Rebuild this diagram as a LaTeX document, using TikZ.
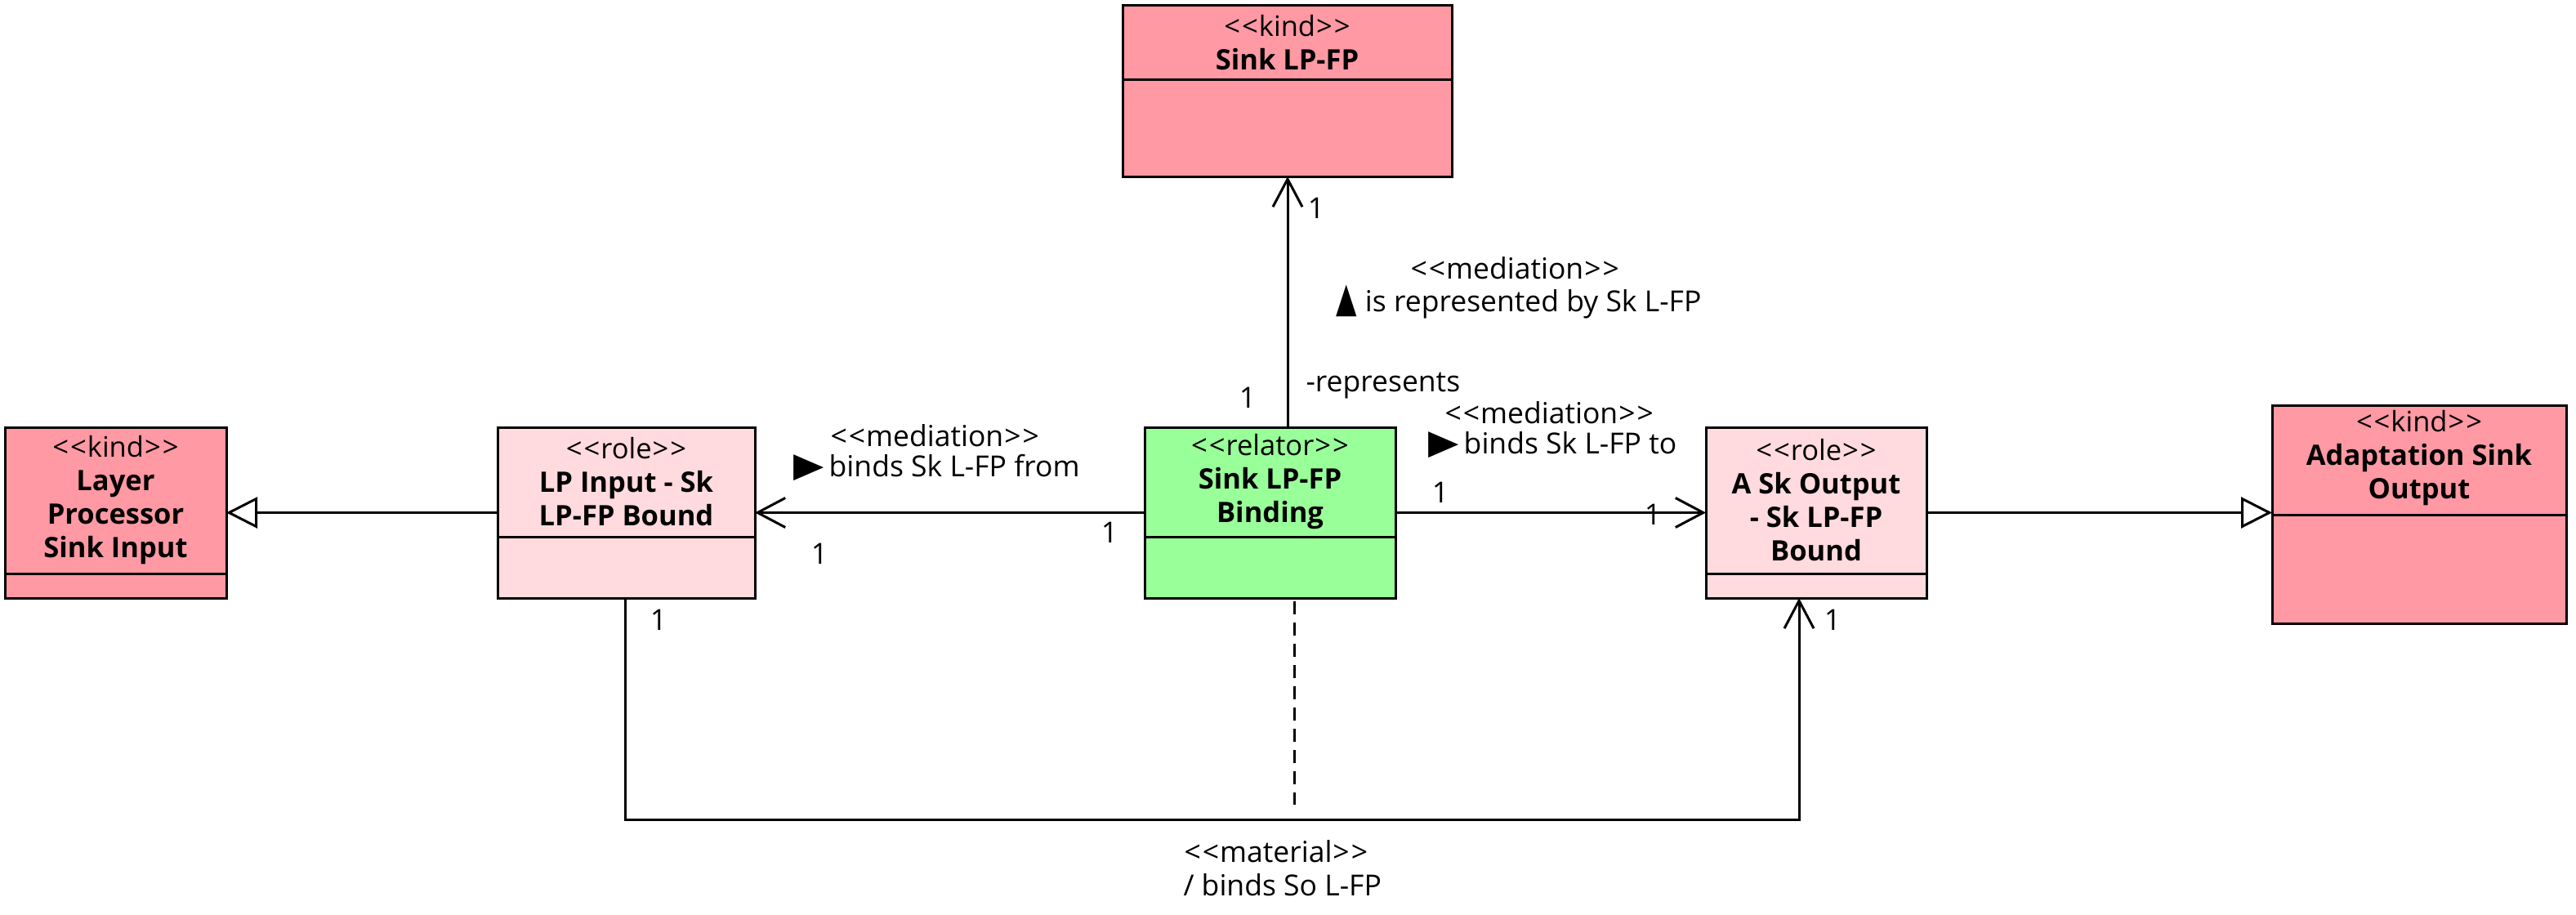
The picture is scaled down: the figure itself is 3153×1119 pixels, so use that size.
\documentclass[tikz,border=0pt]{standalone}
\usepackage{fontspec}
\setmainfont{Open Sans}[Ligatures=TeXOff]
\newfontfamily\symfont{DejaVu Sans}
\usetikzlibrary{arrows.meta}
\definecolor{kindc}{HTML}{FF99A3}
\definecolor{rolec}{HTML}{FFDADE}
\definecolor{relc}{HTML}{99FF99}
\newcommand{\stereo}[1]{<\kern2pt<\kern1pt#1\kern1pt>\kern2pt>}
\newcommand{\uptri}{{\symfont\fontsize{46}{46}\selectfont\scalebox{0.72}[1.1]{▲}}}
\newcommand{\righttri}{{\symfont\fontsize{44}{44}\selectfont\scalebox{1.1}[0.95]{▶}}}
\begin{document}
\begin{tikzpicture}[x=1pt,y=-1pt, line width=3pt,
  box/.style={draw, line width=3pt, inner sep=0pt, outer sep=0pt},
  kindbox/.style={box, fill=kindc},
  rolebox/.style={box, fill=rolec},
  relbox/.style={box, fill=relc},
  title/.style={align=center, font=\fontsize{34.5}{41}\selectfont, inner sep=0pt},
  lbl/.style={align=center, font=\fontsize{35.5}{41}\selectfont, inner sep=0pt},
  openarrow/.style={-{Straight Barb[length=34pt,width=36pt]}},
  gen/.style={-{Triangle[open,length=38pt,width=38pt,fill=white]}},
]
\useasboundingbox (0,0) rectangle (3153,1119);

% boxes
\node[kindbox, minimum width=403pt, minimum height=210pt] (top) at (1575.5,111) {};
\draw (top.west |- 0,97) -- (top.east |- 0,97);
\node[title] (topT) at (1575.5,52) {\stereo{kind}\\\textbf{Sink LP-FP}};

\node[kindbox, minimum width=271pt, minimum height=209pt] (lpsi) at (141.5,627.5) {};
\draw (lpsi.west |- 0,702) -- (lpsi.east |- 0,702);
\node[title] (lpsiT) at (141.5,612.5) {\stereo{kind}\\\textbf{Layer}\\\textbf{Processor}\\\textbf{Sink Input}};

\node[rolebox, minimum width=315pt, minimum height=209pt] (lpin) at (766.5,627.5) {};
\draw (lpin.west |- 0,657) -- (lpin.east |- 0,657);
\node[title] (lpinT) at (766.5,590) {\stereo{role}\\\textbf{LP Input - Sk}\\\textbf{LP-FP Bound}};

\node[relbox, minimum width=307pt, minimum height=209pt] (rel) at (1554.5,627.5) {};
\draw (rel.west |- 0,657) -- (rel.east |- 0,657);
\node[title] (relT) at (1554.5,590) {\stereo{relator}\\\textbf{Sink LP-FP}\\\textbf{Binding}};

\node[rolebox, minimum width=270pt, minimum height=209pt] (aso) at (2223,627.5) {};
\draw (aso.west |- 0,702) -- (aso.east |- 0,702);
\node[title] (asoT) at (2223,612.5) {\stereo{role}\\\textbf{A Sk Output}\\\textbf{- Sk LP-FP}\\\textbf{Bound}};

\node[kindbox, minimum width=360pt, minimum height=267pt] (ads) at (2961,629.5) {};
\draw (ads.west |- 0,630) -- (ads.east |- 0,630);
\node[title] (adsT) at (2961,561) {\stereo{kind}\\\textbf{Adaptation Sink}\\\textbf{Output}};

% generalizations
\draw[gen] (lpin.west) -- (lpsi.east);
\draw[gen] (aso.east) -- (ads.west |- aso.east);

% mediations
\draw[openarrow] (rel.west) -- (lpin.east);
\draw[openarrow] (rel.east) -- (aso.west);
\coordinate (up) at (1576,0);
\draw[openarrow] (rel.north -| up) -- (top.south -| up);

% material
\coordinate (m1) at (765,1003);
\coordinate (m2) at (2202,1003);
\draw[openarrow] (lpin.south -| m1) -- (m1) -- (m2) -- (aso.south -| m2);
\coordinate (dm) at (1584,1003);
\draw[dash pattern=on 16pt off 10pt, shorten >=18pt, shorten <=4pt] (rel.south -| dm) -- (dm);

% labels
\node[lbl] (l1) at (1611,255) {1};
\node[lbl] (l2) at (1527,487) {1};
\node[lbl, anchor=west] (rep) at (1597,472) {-represents};
\node[lbl, anchor=west] (m1a) at (1725,328) {\stereo{mediation}};
\node[lbl, anchor=west] (m1b) at (1634,370) {\uptri\kern10pt is represented by Sk L-FP};
\node[lbl, anchor=west] (m2a) at (1767,505) {\stereo{mediation}};
\node[lbl, anchor=west] (m2b) at (1747,545) {\righttri\kern6pt binds Sk L-FP to};
\node[lbl, anchor=west] (m3a) at (1015,533) {\stereo{mediation}};
\node[lbl, anchor=west] (m3b) at (970,572) {\righttri\kern6pt binds Sk L-FP from};
\node[lbl] (l3) at (1358,652) {1};
\node[lbl] (l4) at (1003,678) {1};
\node[lbl] (l5) at (1763,603) {1};
\node[lbl] (l6) at (2023,630) {1};
\node[lbl] (l7) at (806,759) {1};
\node[lbl] (l8) at (2243,759) {1};
\node[lbl, anchor=west] (mata) at (1448,1042) {\stereo{material}};
\node[lbl, anchor=west] (matb) at (1447,1083) {/ binds So L-FP};
\end{tikzpicture}
\end{document}
